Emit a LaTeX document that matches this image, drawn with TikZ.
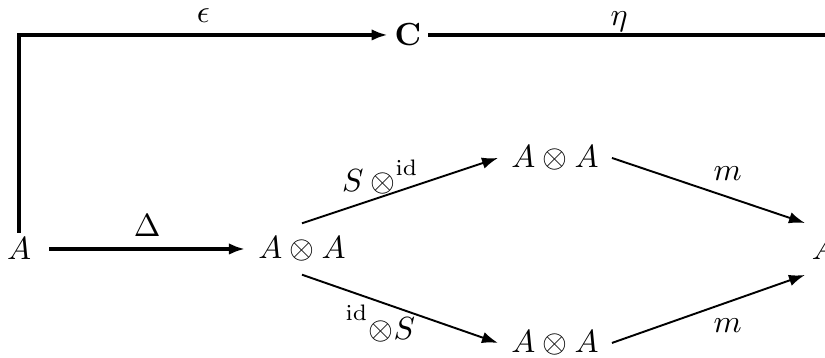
\documentclass[tikz,border=0pt]{standalone}
\usetikzlibrary{arrows.meta}

\begin{document}
\begin{tikzpicture}[>={Latex[length=5pt,width=3.6pt]}, obj/.style={inner sep=4pt}, thickarr/.style={->, line width=1pt}, thinarr/.style={->, line width=0.6pt}]
	\useasboundingbox (0,0) rectangle (9.062,3.932);
	\node[obj] (a1) at (0.209,1.197) [inner xsep=5.5pt, inner ysep=1.5pt] {\(A\)};
	\node[obj] (v1) at (3.317,1.197) {\(A\otimes A\)};
	\node[obj] (v2) at (6.096,2.197) {\(A\otimes A\)};
	\node[obj] (v3) at (6.096,0.165) {\(A\otimes A\)};
	\node[obj] (a2) at (9.051,1.197) [inner xsep=2pt, inner ysep=4.5pt] {\(A\)};
	\node (c1) at (4.481,3.548) [inner sep=2pt] {\(\mathbf{C}\)};

	\draw[thickarr] (a1.north) |- node[pos=0.75, above] {\(\epsilon\)} (c1.west);
	\draw[thickarr] (c1.east) -| node[pos=0.23, above=-2.7pt] {\(\eta\)} (a2.north east);
	\draw[thickarr] (a1.east) -- node[above] {\(\Delta\)} (v1.west);
	\draw[thinarr] (v1.north) -- node[pos=0.4, above, inner sep=0.5pt] {\(S\:\otimes^{\raisebox{1.5pt}{\(\scriptstyle\mathrm{id}\)}}\)} (v2.west);
	\draw[thinarr] (v1.south) -- node[pos=0.4, below, inner sep=0.5pt] {\({}^{\raisebox{2.5pt}{\(\scriptstyle\mathrm{id}\)}}{\otimes}S\)} (v3.west);
	\draw[thinarr] (v2.east) -- node[pos=0.6, above=1.5pt] {\(m\)} (a2.north west);
	\draw[thinarr] (v3.east) -- node[pos=0.6, below=1.5pt] {\(m\)} (a2.south west);
\end{tikzpicture}
\end{document}
